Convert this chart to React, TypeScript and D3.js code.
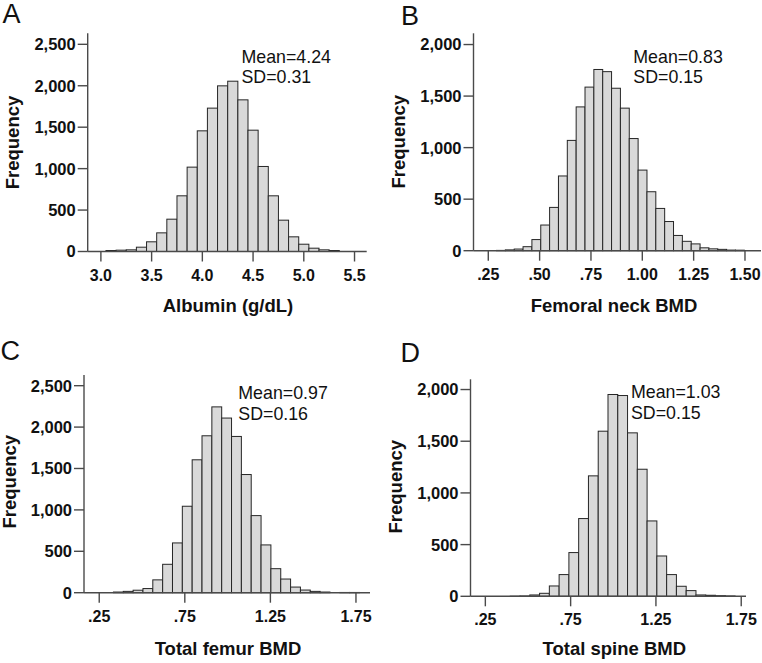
import React from "react";
import * as d3 from "d3";

// ---- Data ----
const albuminCounts = [12, 16, 20, 52, 117, 225, 390, 672, 1018, 1456, 1730, 1999, 2055, 1830, 1464, 1026, 672, 378, 177, 88, 40, 20, 12];
const albuminBinStart = 3.05;
const albuminBinWidth = 0.1;
const albuminXTicks = [3.0, 3.5, 4.0, 4.5, 5.0, 5.5];
const albuminYTicks = [0, 500, 1000, 1500, 2000, 2500];

const neckCounts = [3, 8, 16, 39, 108, 249, 420, 725, 1070, 1395, 1587, 1758, 1737, 1576, 1383, 1088, 782, 572, 410, 283, 148, 91, 66, 28, 18, 13, 6, 5];
const neckBinStart = 0.29;
const neckBinWidth = 0.0431;
const neckXTicks = [0.25, 0.5, 0.75, 1.0, 1.25, 1.5];
const neckYTicks = [0, 500, 1000, 1500, 2000];

const femurCounts = [8, 16, 30, 50, 155, 343, 601, 1044, 1605, 1895, 2244, 2109, 1887, 1427, 931, 577, 290, 165, 68, 32, 16, 8, 0, 3, 3];
const femurBinStart = 0.333;
const femurBinWidth = 0.0575;
const femurXTicks = [0.25, 0.75, 1.25, 1.75];
const femurYTicks = [0, 500, 1000, 1500, 2000, 2500];

const spineCounts = [1, 3, 13, 29, 100, 210, 423, 752, 1165, 1597, 1952, 1942, 1581, 1229, 729, 390, 210, 97, 55, 13, 10, 6, 3];
const spineBinStart = 0.396;
const spineBinWidth = 0.0573;
const spineXTicks = [0.25, 0.75, 1.25, 1.75];
const spineYTicks = [0, 500, 1000, 1500, 2000];

const panelLetters = ["A", "B", "C", "D"];
const xTitles = ["Albumin (g/dL)", "Femoral neck BMD", "Total femur BMD", "Total spine BMD"];
const statLines = [
  ["Mean=4.24", "SD=0.31"],
  ["Mean=0.83", "SD=0.15"],
  ["Mean=0.97", "SD=0.16"],
  ["Mean=1.03", "SD=0.15"],
];

const FONT = "'Liberation Sans', Arial, Helvetica, sans-serif";
const AXIS = "#4a4a4a";

type PanelCfg = {
  counts: number[];
  binStart: number;
  binWidth: number;
  xTicks: number[];
  yTicks: number[];
  xFmt: (v: number) => string;
  xDomain: [number, number];
  xRange: [number, number];
  yDomain: [number, number];
  yRange: [number, number];
  letter: string;
  letterPos: [number, number];
  xTitle: string;
  xTitlePos: [number, number];
  yTitlePos: [number, number];
  stats: string[];
  statsPos: [number, number];
};

const fmtLeading = (v: number) => {
  const s = v.toFixed(2);
  return s.startsWith("0") ? s.slice(1) : s;
};
const fmtOne = (v: number) => v.toFixed(1);

const panels: PanelCfg[] = [
  {
    counts: albuminCounts, binStart: albuminBinStart, binWidth: albuminBinWidth,
    xTicks: albuminXTicks, yTicks: albuminYTicks, xFmt: fmtOne,
    xDomain: [2.87, 5.62], xRange: [87.7, 366.7],
    yDomain: [0, 2633], yRange: [251.5, 33.3],
    letter: panelLetters[0], letterPos: [2.5, 22.7],
    xTitle: xTitles[0], xTitlePos: [228, 312],
    yTitlePos: [18.5, 142.5],
    stats: statLines[0], statsPos: [241.5, 62.7],
  },
  {
    counts: neckCounts, binStart: neckBinStart, binWidth: neckBinWidth,
    xTicks: neckXTicks, yTicks: neckYTicks, xFmt: fmtLeading,
    xDomain: [0.178, 1.578], xRange: [473.5, 761],
    yDomain: [0, 2109], yRange: [250.7, 33.3],
    letter: panelLetters[1], letterPos: [401, 25],
    xTitle: xTitles[1], xTitlePos: [614, 312],
    yTitlePos: [405, 141.7],
    stats: statLines[1], statsPos: [633.3, 62.7],
  },
  {
    counts: femurCounts, binStart: femurBinStart, binWidth: femurBinWidth,
    xTicks: femurXTicks, yTicks: femurYTicks, xFmt: fmtLeading,
    xDomain: [0.161, 1.832], xRange: [84, 370],
    yDomain: [0, 2629], yRange: [592.7, 375],
    letter: panelLetters[2], letterPos: [0.5, 360],
    xTitle: xTitles[2], xTitlePos: [228, 655],
    yTitlePos: [16, 481.7],
    stats: statLines[2], statsPos: [238.3, 399.3],
  },
  {
    counts: spineCounts, binStart: spineBinStart, binWidth: spineBinWidth,
    xTicks: spineXTicks, yTicks: spineYTicks, xFmt: fmtLeading,
    xDomain: [0.163, 1.778], xRange: [470.5, 746],
    yDomain: [0, 2099], yRange: [596.3, 379.3],
    letter: panelLetters[3], letterPos: [400.5, 361.7],
    xTitle: xTitles[3], xTitlePos: [614.3, 655],
    yTitlePos: [401.5, 486.7],
    stats: statLines[3], statsPos: [631, 398.3],
  },
];

const Panel: React.FC<{ p: PanelCfg }> = ({ p }) => {
  const x = d3.scaleLinear().domain(p.xDomain).range(p.xRange);
  const y = d3.scaleLinear().domain(p.yDomain).range(p.yRange);
  const yFmt = d3.format(",");
  const x0 = p.xRange[0];
  const y0 = y(0);
  const bins = p.counts.map((c, i) => ({
    lo: p.binStart + i * p.binWidth,
    hi: p.binStart + (i + 1) * p.binWidth,
    c,
  }));
  return (
    <g>
      <text x={p.letterPos[0]} y={p.letterPos[1]} fontFamily={FONT} fontSize={27} fill="#111">
        {p.letter}
      </text>
      {bins.filter((b) => b.c > 0).map((b, i) => (
        <rect
          key={i}
          x={x(b.lo)}
          y={y(b.c)}
          width={x(b.hi) - x(b.lo)}
          height={y0 - y(b.c)}
          fill="#d9d9d9"
          stroke="#262626"
          strokeWidth={1}
        />
      ))}
      {/* axes */}
      <line x1={x0} x2={x0} y1={p.yRange[1]} y2={y0} stroke={AXIS} strokeWidth={1.4} />
      <line x1={x0} x2={p.xRange[1]} y1={y0} y2={y0} stroke={AXIS} strokeWidth={1.4} />
      {p.yTicks.map((t) => (
        <g key={"y" + t}>
          <line x1={x0 - 10} x2={x0} y1={y(t)} y2={y(t)} stroke={AXIS} strokeWidth={1.4} />
          <text
            x={x0 - 12}
            y={y(t)}
            dy="0.36em"
            textAnchor="end"
            fontFamily={FONT}
            fontWeight="bold"
            fontSize={16.5}
            fill="#111"
          >
            {yFmt(t)}
          </text>
        </g>
      ))}
      {p.xTicks.map((t) => (
        <g key={"x" + t}>
          <line x1={x(t)} x2={x(t)} y1={y0} y2={y0 + 10} stroke={AXIS} strokeWidth={1.4} />
          <text
            x={x(t)}
            y={y0 + 29}
            textAnchor="middle"
            fontFamily={FONT}
            fontWeight="bold"
            fontSize={16}
            fill="#111"
          >
            {p.xFmt(t)}
          </text>
        </g>
      ))}
      <text
        x={p.xTitlePos[0]}
        y={p.xTitlePos[1]}
        textAnchor="middle"
        fontFamily={FONT}
        fontWeight="bold"
        fontSize={18.5}
        fill="#111"
      >
        {p.xTitle}
      </text>
      <text
        transform={`translate(${p.yTitlePos[0]},${p.yTitlePos[1]}) rotate(-90)`}
        textAnchor="middle"
        fontFamily={FONT}
        fontWeight="bold"
        fontSize={18.5}
        fill="#111"
      >
        Frequency
      </text>
      {p.stats.map((s, i) => (
        <text
          key={s}
          x={p.statsPos[0]}
          y={p.statsPos[1] + i * 20.7}
          fontFamily={FONT}
          fontSize={17.8}
          fill="#111"
        >
          {s}
        </text>
      ))}
    </g>
  );
};

export default function App() {
  return (
    <svg
      width={762}
      height={663}
      viewBox="0 0 762 663"
      style={{ position: "absolute", left: 0, top: 0, background: "#fff" }}
    >
      <rect x={0} y={0} width={762} height={663} fill="#fff" />
      {panels.map((p, i) => (
        <Panel key={i} p={p} />
      ))}
    </svg>
  );
}
